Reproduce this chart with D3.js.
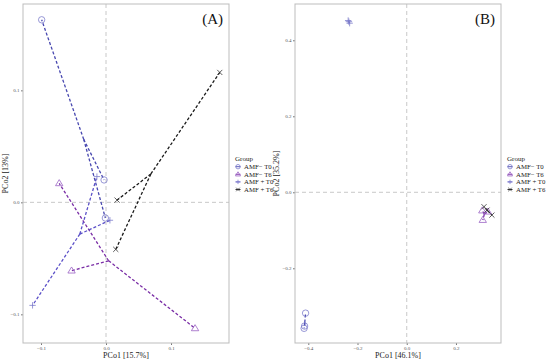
<!DOCTYPE html>
<html><head><meta charset="utf-8">
<script src="https://cdn.jsdelivr.net/npm/d3@7"></script>
<style>body{margin:0;background:#fff}svg{display:block}text{font-family:"Liberation Serif","DejaVu Serif",serif}</style>
</head><body><svg id="c" width="550" height="362"></svg>
<script>
const groups = ["AMF\u2212 T0", "AMF\u2212 T6", "AMF + T0", "AMF + T6"];
const shapes = ["circle", "triangle", "plus", "cross"];
const lineColors = ["#4848b0", "#7a2ea6", "#5a4fc8", "#1a1a1a"];
const markColors = ["#7d7dcc", "#9a62c4", "#7d7dcc", "#333333"];

// Panel A: PCo1 [15.7%] / PCo2 [13%]  (x, y) per sample
const aPoints = [
  [[-0.099, 0.163], [-0.003, 0.020], [-0.001, -0.014]],
  [[-0.072, 0.017], [-0.053, -0.061], [0.137, -0.1125]],
  [[-0.014, 0.023], [-0.113, -0.092], [0.006, -0.016]],
  [[0.175, 0.116], [0.017, 0.002], [0.015, -0.042]]
];
// Panel B: PCo1 [46.1%] / PCo2 [35.2%]
const bPoints = [
  [[-0.411, -0.318], [-0.417, -0.358], [-0.415, -0.352]],
  [[0.307, -0.048], [0.309, -0.073], [0.330, -0.051]],
  [[-0.235, 0.449], [-0.238, 0.452], [-0.232, 0.445]],
  [[0.314, -0.038], [0.346, -0.060], [0.326, -0.047]]
];
const aXTicks = [-0.1, 0.0, 0.1];
const aYTicks = [-0.1, 0.0, 0.1];
const bXTicks = [-0.4, -0.2, 0.0, 0.2];
const bYTicks = [-0.2, 0.0, 0.2, 0.4];

const svg = d3.select("#c");

function markPath(shape, cx, cy, s) {
  const p = d3.path();
  if (shape === "circle") { p.moveTo(cx + s, cy); p.arc(cx, cy, s, 0, 2 * Math.PI); }
  else if (shape === "triangle") { const h = s * 1.15; p.moveTo(cx, cy - h); p.lineTo(cx + h, cy + h * 0.65); p.lineTo(cx - h, cy + h * 0.65); p.closePath(); }
  else if (shape === "plus") { p.moveTo(cx - s, cy); p.lineTo(cx + s, cy); p.moveTo(cx, cy - s); p.lineTo(cx, cy + s); }
  else { const d = s * 0.8; p.moveTo(cx - d, cy - d); p.lineTo(cx + d, cy + d); p.moveTo(cx - d, cy + d); p.lineTo(cx + d, cy - d); }
  return p.toString();
}

function panel(cfg) {
  const x = d3.scaleLinear().domain(cfg.xd).range([cfg.left, cfg.right]);
  const y = d3.scaleLinear().domain(cfg.yd).range([cfg.bottom, cfg.top]);
  const g = svg.append("g");
  g.append("line").attr("x1", x(0)).attr("x2", x(0)).attr("y1", cfg.top).attr("y2", cfg.bottom)
    .attr("stroke", "#c8c8c8").attr("stroke-width", 1).attr("stroke-dasharray", "4,3");
  g.append("line").attr("x1", cfg.left).attr("x2", cfg.right).attr("y1", y(0)).attr("y2", y(0))
    .attr("stroke", "#c8c8c8").attr("stroke-width", 1).attr("stroke-dasharray", "4,3");
  const xa = g.append("g").attr("transform", `translate(0,${cfg.bottom})`)
    .call(d3.axisBottom(x).tickValues(cfg.xt).tickSize(2).tickPadding(1).tickFormat(d3.format(".1f")));
  const ya = g.append("g").attr("transform", `translate(${cfg.left},0)`)
    .call(d3.axisLeft(y).tickValues(cfg.yt).tickSize(2).tickPadding(1.5).tickFormat(d3.format(".1f")));
  [xa, ya].forEach(a => {
    a.select(".domain").remove();
    a.selectAll(".tick line").attr("stroke", "#777");
    a.selectAll(".tick text").attr("fill", "#555").style("font-size", "5px").style("font-family", "Liberation Serif, serif");
  });
  cfg.pts.forEach((grp, gi) => {
    const cx = d3.mean(grp, d => d[0]), cy = d3.mean(grp, d => d[1]);
    grp.forEach(d => {
      g.append("line").attr("x1", x(cx)).attr("y1", y(cy)).attr("x2", x(d[0])).attr("y2", y(d[1]))
        .attr("stroke", lineColors[gi]).attr("stroke-width", 1.3).attr("stroke-dasharray", "3,2");
    });
  });
  cfg.pts.forEach((grp, gi) => {
    grp.forEach(d => {
      g.append("path").attr("d", markPath(shapes[gi], x(d[0]), y(d[1]), 3.2))
        .attr("fill", "none").attr("stroke", markColors[gi]).attr("stroke-width", 0.8);
    });
  });
  g.append("rect").attr("x", cfg.left).attr("y", cfg.top).attr("width", cfg.right - cfg.left).attr("height", cfg.bottom - cfg.top)
    .attr("fill", "none").attr("stroke", "#bdbdbd").attr("stroke-width", 1);
  g.append("text").attr("x", (cfg.left + cfg.right) / 2).attr("y", 358).attr("text-anchor", "middle")
    .style("font-size", "8px").attr("fill", "#222").text(cfg.xl);
  g.append("text").attr("transform", `translate(${cfg.yx},${(cfg.top + cfg.bottom) / 2}) rotate(-90)`)
    .attr("text-anchor", "middle").style("font-size", "8px").attr("fill", "#222").text(cfg.ylab);
  g.append("text").attr("x", cfg.right - 6).attr("y", 24).attr("text-anchor", "end")
    .style("font-size", "15px").attr("fill", "#111").text(cfg.tag);
  const lg = g.append("g").attr("transform", `translate(${cfg.lx},${cfg.ly})`);
  lg.append("text").attr("x", 0).attr("y", 0).style("font-size", "7px").attr("fill", "#222").text("Group");
  groups.forEach((nm, i) => {
    const yy = 8 + i * 7.6;
    lg.append("line").attr("x1", 0.5).attr("x2", 5.5).attr("y1", yy - 2.3).attr("y2", yy - 2.3)
      .attr("stroke", lineColors[i]).attr("stroke-width", 0.9);
    lg.append("path").attr("d", markPath(shapes[i], 3, yy - 2.3, 2.2)).attr("fill", "none")
      .attr("stroke", markColors[i]).attr("stroke-width", 0.8);
    lg.append("text").attr("x", 9).attr("y", yy).style("font-size", "6.8px").attr("fill", "#222").text(nm);
  });
}

panel({ left: 23, right: 229, top: 4, bottom: 343, xd: [-0.1277, 0.1892], yd: [-0.1256, 0.1771],
  xt: aXTicks, yt: aYTicks, pts: aPoints, xl: "PCo1 [15.7%]", ylab: "PCo2 [13%]", yx: 8, tag: "(A)", lx: 235, ly: 161 });
panel({ left: 295, right: 501, top: 4, bottom: 343, xd: [-0.454, 0.383], yd: [-0.3966, 0.4955],
  xt: bXTicks, yt: bYTicks, pts: bPoints, xl: "PCo1 [46.1%]", ylab: "PCo2 [35.2%]", yx: 279, tag: "(B)", lx: 507, ly: 161 });
</script></body></html>
